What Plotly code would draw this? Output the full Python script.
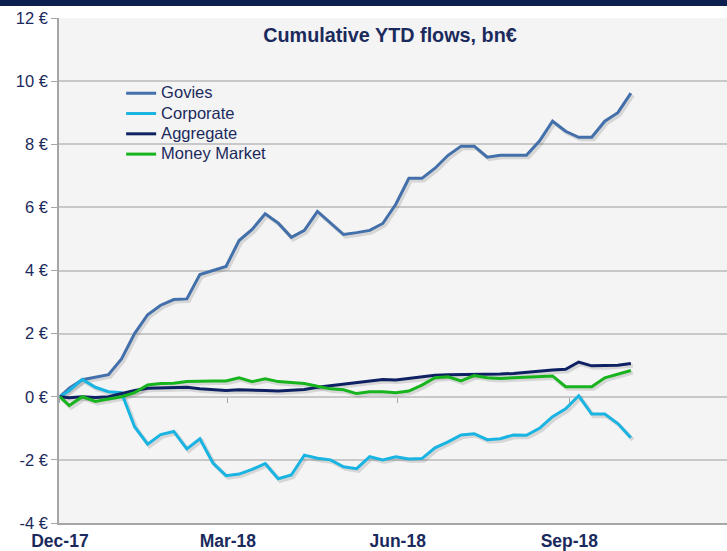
import plotly.graph_objects as go

# ---------------- data ----------------
dates = [
    "2017-12-31",
    "2018-01-05", "2018-01-12", "2018-01-19", "2018-01-26",
    "2018-02-02", "2018-02-09", "2018-02-16", "2018-02-23",
    "2018-03-02", "2018-03-09", "2018-03-16", "2018-03-23", "2018-03-30",
    "2018-04-06", "2018-04-13", "2018-04-20", "2018-04-27",
    "2018-05-04", "2018-05-11", "2018-05-18", "2018-05-25",
    "2018-06-01", "2018-06-08", "2018-06-15", "2018-06-22", "2018-06-29",
    "2018-07-06", "2018-07-13", "2018-07-20", "2018-07-27",
    "2018-08-03", "2018-08-10", "2018-08-17", "2018-08-24", "2018-08-31",
    "2018-09-07", "2018-09-14", "2018-09-21", "2018-09-28",
    "2018-10-05", "2018-10-12", "2018-10-19", "2018-10-26",
    "2018-11-02",
]

govies = [0, 0.27, 0.54, 0.62, 0.70, 1.20, 2.00, 2.60, 2.90, 3.08,
          3.10, 3.87, 4.00, 4.13, 4.95, 5.30, 5.80, 5.50, 5.05, 5.27,
          5.87, 5.50, 5.14, 5.20, 5.27, 5.49, 6.10, 6.92, 6.92, 7.24,
          7.65, 7.94, 7.94, 7.59, 7.65, 7.65, 7.65, 8.10, 8.73, 8.41,
          8.22, 8.22, 8.73, 9.00, 9.62]

corporate = [0, 0.20, 0.55, 0.30, 0.16, 0.13, -0.95, -1.50, -1.20, -1.10,
             -1.65, -1.33, -2.10, -2.50, -2.45, -2.30, -2.12, -2.60, -2.48, -1.85,
             -1.95, -2.00, -2.22, -2.28, -1.90, -2.00, -1.90, -1.97, -1.96, -1.62,
             -1.43, -1.21, -1.17, -1.36, -1.33, -1.21, -1.22, -1.00, -0.63, -0.38,
             0.03, -0.55, -0.55, -0.85, -1.30]

aggregate = [0, -0.03, 0.00, -0.02, 0.00, 0.10, 0.20, 0.27, 0.28, 0.28,
             0.30, 0.25, 0.22, 0.20, 0.22, 0.22, 0.20, 0.18, 0.20, 0.23,
             0.30, 0.35, 0.40, 0.44, 0.50, 0.55, 0.53, 0.58, 0.62, 0.68,
             0.70, 0.70, 0.70, 0.72, 0.72, 0.74, 0.78, 0.80, 0.85, 0.87,
             1.10, 0.98, 0.98, 1.00, 1.05]

money_market = [0, -0.28, 0.00, -0.15, -0.07, 0.00, 0.13, 0.37, 0.42, 0.43,
                0.48, 0.50, 0.50, 0.50, 0.60, 0.48, 0.57, 0.48, 0.45, 0.42,
                0.33, 0.25, 0.22, 0.10, 0.16, 0.16, 0.13, 0.18, 0.37, 0.60,
                0.63, 0.50, 0.67, 0.60, 0.58, 0.60, 0.63, 0.63, 0.66, 0.32,
                0.32, 0.32, 0.60, 0.72, 0.83]

series_names = ["Govies", "Corporate", "Aggregate", "Money Market"]
series_values = [govies, corporate, aggregate, money_market]
series_colors = ["#4370aa", "#1ab4e2", "#0e2263", "#18b41e"]

y_tick_vals = [-4, -2, 0, 2, 4, 6, 8, 10, 12]
y_tick_text = ["-4 €", "-2 €", "0 €", "2 €", "4 €", "6 €", "8 €", "10 €", "12 €"]
x_tick_vals = ["2017-12-31", "2018-03-31", "2018-06-30", "2018-09-30"]
x_tick_text = ["Dec-17", "Mar-18", "Jun-18", "Sep-18"]

title_text = "Cumulative YTD flows, bn€"

# ---------------- style ----------------
FONT = "Liberation Sans, Arial, sans-serif"
NAVY_TXT = "#1b2a5c"
GRID = "#c8c8c8"
AXIS = "#a6a6a6"
LEGEND_TEXT_PX = 16.5

x_range = ["2017-12-30 12:00", "2018-12-23 12:00"]
# shadow axes: shifted ~2px right / down
x_range_sh = ["2017-12-29 10:30", "2018-12-22 10:30"]
y_range = [-4, 12]
y_range_sh = [-4 + 0.065, 12 + 0.065]

fig = go.Figure()

# invisible anchor trace on main axes
fig.add_trace(go.Scatter(x=dates, y=aggregate, mode="lines",
                         line=dict(width=0, color="rgba(0,0,0,0)"),
                         hoverinfo="skip", showlegend=False))

# shadows
for vals in series_values:
    fig.add_trace(go.Scatter(x=dates, y=vals, mode="lines",
                             line=dict(width=4, color="rgba(60,60,60,0.16)"),
                             xaxis="x2", yaxis="y2",
                             hoverinfo="skip", showlegend=False))

# data lines
for name, vals, col in zip(series_names, series_values, series_colors):
    fig.add_trace(go.Scatter(
        x=dates, y=vals, mode="lines",
        name='<span style="font-size:%gpx">%s</span>' % (LEGEND_TEXT_PX, name),
        line=dict(width=3, color=col),
        xaxis="x3", yaxis="y3"))

fig.update_layout(
    width=727, height=551,
    margin=dict(l=59, r=0, t=18, b=28, autoexpand=False),
    paper_bgcolor="white",
    plot_bgcolor="#f4f4f4",
    font=dict(family=FONT, color=NAVY_TXT),
    showlegend=True,
    legend=dict(
        x=0.093, y=0.881, xanchor="left", yanchor="top",
        bgcolor="rgba(0,0,0,0)",
        font=dict(size=13.3, color=NAVY_TXT, family=FONT),
        itemwidth=30, tracegroupgap=0,
    ),
    title=dict(text="<b>" + title_text + "</b>",
               x=390 / 727, xanchor="center", xref="container",
               y=1 - 35 / 551, yanchor="middle", yref="container",
               font=dict(size=19.8, color=NAVY_TXT, family=FONT)),
    xaxis=dict(
        type="date", range=x_range, automargin=False,
        tickvals=x_tick_vals, ticktext=x_tick_text,
        tickfont=dict(size=17.5, color=NAVY_TXT, family=FONT, weight="bold"),
        ticks="outside", ticklen=1, tickcolor="rgba(0,0,0,0)",
        showgrid=False, zeroline=False,
        showline=True, linecolor=AXIS, linewidth=1.5,
    ),
    yaxis=dict(
        range=y_range, automargin=False,
        tickvals=y_tick_vals, ticktext=y_tick_text,
        tickfont=dict(size=16.5, color=NAVY_TXT, family=FONT),
        ticks="outside", ticklen=6, tickcolor=AXIS, tickwidth=1.2,
        showgrid=True, gridcolor=GRID, gridwidth=1.5,
        zeroline=False,
        showline=True, linecolor=AXIS, linewidth=1.5,
    ),
    xaxis2=dict(type="date", range=x_range_sh, overlaying="x", visible=False),
    yaxis2=dict(range=y_range_sh, overlaying="y", visible=False),
    xaxis3=dict(
        type="date", range=x_range, overlaying="x", automargin=False,
        anchor="free", position=0.25, side="bottom",
        tickvals=x_tick_vals, showticklabels=False,
        ticks="outside", ticklen=5, tickcolor=AXIS, tickwidth=1.2,
        showgrid=False, zeroline=False, showline=False,
    ),
    yaxis3=dict(range=y_range, overlaying="y", visible=False),
    shapes=[dict(type="rect", xref="paper", yref="paper",
                 x0=-59 / 668, x1=1.0,
                 y0=1 + 12 / 505, y1=1 + 18 / 505,
                 fillcolor="#0d1f4f", line=dict(width=0), layer="above")],
)

fig.write_html(
    "out.html",
    config={"displayModeBar": False},
    post_script="document.body.style.margin='0';document.body.style.overflow='hidden';",
)
